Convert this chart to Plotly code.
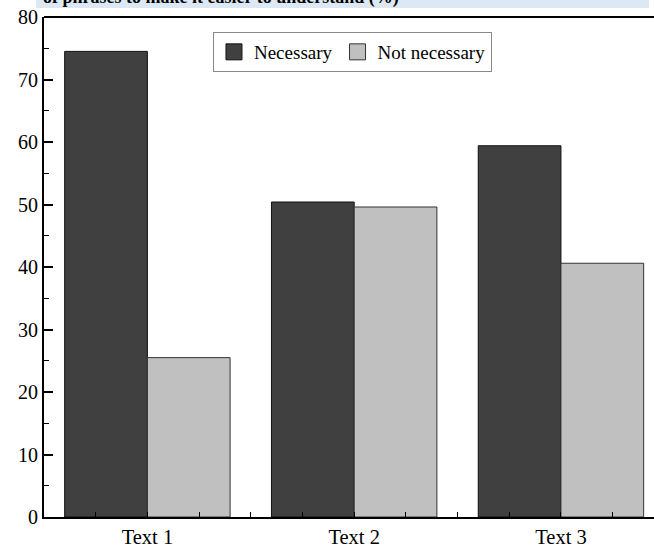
import plotly.graph_objects as go

categories = ["Text 1", "Text 2", "Text 3"]
necessary = [74.5, 50.4, 59.4]
not_necessary = [25.5, 49.6, 40.6]
cat_pos = [0, 1, 2]
title_text = "of phrases to make it easier to understand (%)"

serif = "Liberation Serif, Times New Roman, serif"
dark = "#404040"
light = "#c0c0c0"

fig = go.Figure()
fig.add_trace(go.Bar(x=cat_pos, y=necessary, name="Necessary", showlegend=False,
                     marker=dict(color=dark, line=dict(color="#111111", width=1))))
fig.add_trace(go.Bar(x=cat_pos, y=not_necessary, name="Not necessary", showlegend=False,
                     marker=dict(color=light, line=dict(color="#333333", width=1))))
# legend entries with larger square swatches
fig.add_trace(go.Scatter(x=[None], y=[None], mode="markers", name="Necessary",
                         marker=dict(symbol="square", size=19, color=dark,
                                     line=dict(color="#111111", width=1))))
fig.add_trace(go.Scatter(x=[None], y=[None], mode="markers", name="Not necessary",
                         marker=dict(symbol="square", size=19, color=light,
                                     line=dict(color="#333333", width=1))))

fig.update_layout(
    width=654, height=551,
    margin=dict(l=44, r=0, t=17, b=34),
    paper_bgcolor="white", plot_bgcolor="white",
    barmode="group", bargap=0.2, bargroupgap=0,
    font=dict(family=serif, color="black", size=19),
    showlegend=True,
    legend=dict(orientation="h", x=0.277, y=0.97, xanchor="left", yanchor="top",
                bgcolor="white", bordercolor="#888888", borderwidth=1,
                font=dict(family=serif, size=19, color="black"),
                itemsizing="trace", itemwidth=30, tracegroupgap=0),
    xaxis=dict(range=[-0.5, 2.45], tickvals=cat_pos, ticktext=categories,
               ticks="inside", ticklen=5, tickwidth=1, tickcolor="black",
               minor=dict(ticks="inside", dtick=0.25, tick0=0, ticklen=5, tickwidth=1, tickcolor="black"),
               showline=True, linecolor="black", linewidth=2, mirror=False,
               showgrid=False, zeroline=False,
               tickfont=dict(family=serif, size=20.5, color="black")),
    yaxis=dict(range=[0, 80], dtick=10, tick0=0,
               ticks="inside", ticklen=9, tickwidth=1.5, tickcolor="black",
               minor=dict(ticks="inside", dtick=5, ticklen=5, tickwidth=1, tickcolor="black"),
               showline=True, linecolor="black", linewidth=2, mirror=False,
               showgrid=False, zeroline=False,
               tickfont=dict(family=serif, size=20, color="black")),
    shapes=[
        dict(type="rect", xref="paper", yref="paper", x0=-0.013, x1=0.992, y0=1.018, y1=1.04,
             fillcolor="#dce9f4", line=dict(width=0), layer="below"),
        dict(type="line", xref="paper", yref="paper", x0=0, x1=1, y0=1, y1=1,
             line=dict(color="black", width=2)),
    ],
    annotations=[
        dict(text="<b>" + title_text + "</b>", xref="paper", yref="paper",
             x=-0.005, y=1.039, xanchor="left", yanchor="middle", showarrow=False,
             font=dict(family=serif, size=18, color="black")),
    ],
)

fig.write_html("out.html", config={"displayModeBar": False},
               post_script="document.body.style.margin='0';document.body.style.overflow='hidden';")
